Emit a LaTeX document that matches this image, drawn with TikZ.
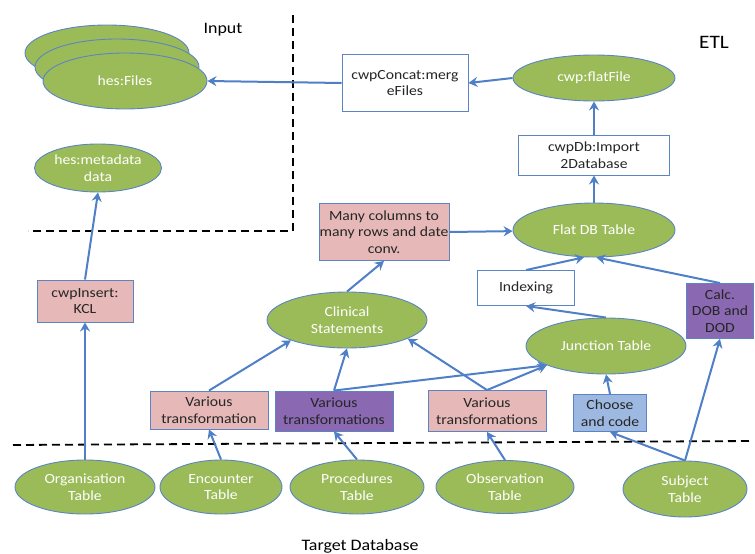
\documentclass[tikz,border=0pt]{standalone}
\usepackage{fontspec}
\setmainfont[FakeStretch=1.12]{Carlito}
\usetikzlibrary{shapes.geometric,arrows.meta}
\definecolor{grnfill}{HTML}{9BBB59}
\definecolor{edgeblue}{HTML}{5B84C4}
\definecolor{arrblue}{HTML}{4F7FC6}
\definecolor{pinkfill}{HTML}{E6B9B8}
\definecolor{purpfill}{HTML}{8A68B2}
\definecolor{bluefill}{HTML}{9DB9E1}
\definecolor{txtdark}{HTML}{262626}
\tikzset{
  x=1pt, y=-1pt,
  oval/.style={ellipse, draw=edgeblue, line width=0.9pt, fill=grnfill, text=white, inner sep=0pt, align=center,
    font=\fontsize{14}{16.5}\selectfont},
  boxw/.style={rectangle, draw=edgeblue, line width=0.9pt, fill=white, text=txtdark, inner sep=0pt, align=center,
    font=\fontsize{14}{16.5}\selectfont},
  boxp/.style={boxw, fill=pinkfill},
  boxv/.style={boxw, fill=purpfill},
  boxb/.style={boxw, fill=bluefill},
  conn/.style={draw=arrblue, line width=2pt, -{Stealth[length=9pt,width=10pt,inset=3pt]}},
  sep/.style={draw=black, line width=1.8pt, dash pattern=on 8pt off 5pt},
  title/.style={text=black, inner sep=0pt}
}
\begin{document}
\begin{tikzpicture}
\useasboundingbox (0,0) rectangle (755,554);
% separators
\coordinate (d1) at (293,15);
\coordinate (d2) at (293,231);
\coordinate (d3) at (28,231);
\coordinate (d4) at (13,445);
\coordinate (d5) at (753,441);
\draw[sep] (d1) -- (d2) -- (d3);
\draw[sep] (d4) -- (d5);
% titles
\node[title, font=\fontsize{16}{18}\selectfont] (tin) at (223,30) {Input};
\node[title, font=\fontsize{19}{22}\selectfont] (tetl) at (714,42) {ETL};
\node[title, font=\fontsize{16}{18}\selectfont] (ttdb) at (360,546) {Target Database};
% hes files stack
\node[oval, minimum width=164pt, minimum height=56pt] (filesb) at (107,53) {};
\node[oval, minimum width=164pt, minimum height=56pt] (filesm) at (117,67) {};
\node[oval, minimum width=164pt, minimum height=56pt] (files) at (125,81) {hes:Files};
\node[oval, minimum width=127pt, minimum height=48pt] (meta) at (98,168) {hes:metadata\\data};
% ETL
\node[boxw, minimum width=126pt, minimum height=57pt] (concat) at (405,83) {cwpConcat:merg\\eFiles};
\node[oval, minimum width=162pt, minimum height=46pt] (flat) at (594,78) {cwp:flatFile};
\node[boxw, minimum width=151pt, minimum height=40pt] (cwpdb) at (594,155) {cwpDb:Import\\2Database};
\node[oval, minimum width=162pt, minimum height=54pt] (flatdb) at (594,230) {Flat DB Table};
\node[boxp, minimum width=130pt, minimum height=57pt] (many) at (384,232) {Many columns to\\many rows and date\\conv.};
\node[boxw, minimum width=97pt, minimum height=35pt] (idx) at (526,288) {Indexing};
\node[boxv, minimum width=67pt, minimum height=55pt] (calc) at (720,311) {Calc.\\DOB and\\DOD};
\node[oval, minimum width=160pt, minimum height=56pt] (clin) at (347,320) {Clinical\\Statements};
\node[oval, minimum width=160pt, minimum height=56pt] (junc) at (606,346) {Junction Table};
\node[boxp, minimum width=96pt, minimum height=42pt] (ins) at (85,301) {cwpInsert:\\KCL};
\node[boxp, minimum width=118pt, minimum height=38pt] (vt1) at (209,410) {Various\\transformation};
\node[boxv, minimum width=118pt, minimum height=40pt] (vt2) at (334,411) {Various\\transformations};
\node[boxp, minimum width=118pt, minimum height=41pt] (vt3) at (487,411) {Various\\transformations};
\node[boxb, minimum width=73pt, minimum height=37pt] (choose) at (610,413) {Choose\\and code};
% target tables
\node[oval, minimum width=140pt, minimum height=54pt] (org) at (85,487) {Organisation\\Table};
\node[oval, minimum width=122pt, minimum height=54pt] (enc) at (221,487) {Encounter\\Table};
\node[oval, minimum width=134pt, minimum height=54pt] (proc) at (357,487) {Procedures\\Table};
\node[oval, minimum width=138pt, minimum height=53pt] (obs) at (505,487) {Observation\\Table};
\node[oval, minimum width=124pt, minimum height=56pt] (subj) at (685,489) {Subject\\Table};
% connectors
\draw[conn] (concat.west) -- (files.east);
\draw[conn] (flat.west) -- (concat.east);
\draw[conn] (cwpdb.north) -- (flat.south);
\draw[conn] (flatdb.north) -- (cwpdb.south);
\draw[conn] (many.east) -- (flatdb);
\draw[conn] (clin.north) -- (many.south);
\draw[conn] (idx.north) -- (flatdb.250);
\draw[conn] (calc.north) -- (flatdb.275);
\draw[conn] (junc.north) -- (idx.south);
\draw[conn] (ins.north) -- (meta.south);
\draw[conn] (org.north) -- (ins.south);
\draw[conn] (enc.north) -- (vt1.south);
\draw[conn] (vt1.north) -- (clin.200);
\draw[conn] (proc.north) -- (vt2.south);
\draw[conn] (vt2.north) -- (clin.south);
\draw[conn] (vt2.north) -- (junc.198);
\draw[conn] (vt3.north) -- (clin.-17);
\draw[conn] (vt3.north) -- (junc.198);
\draw[conn] (obs.north) -- (vt3.south);
\draw[conn] (choose.north) -- (junc.south);
\draw[conn] (subj.north) -- (choose.south);
\draw[conn] (subj.north) -- (calc.south);
\end{tikzpicture}
\end{document}
